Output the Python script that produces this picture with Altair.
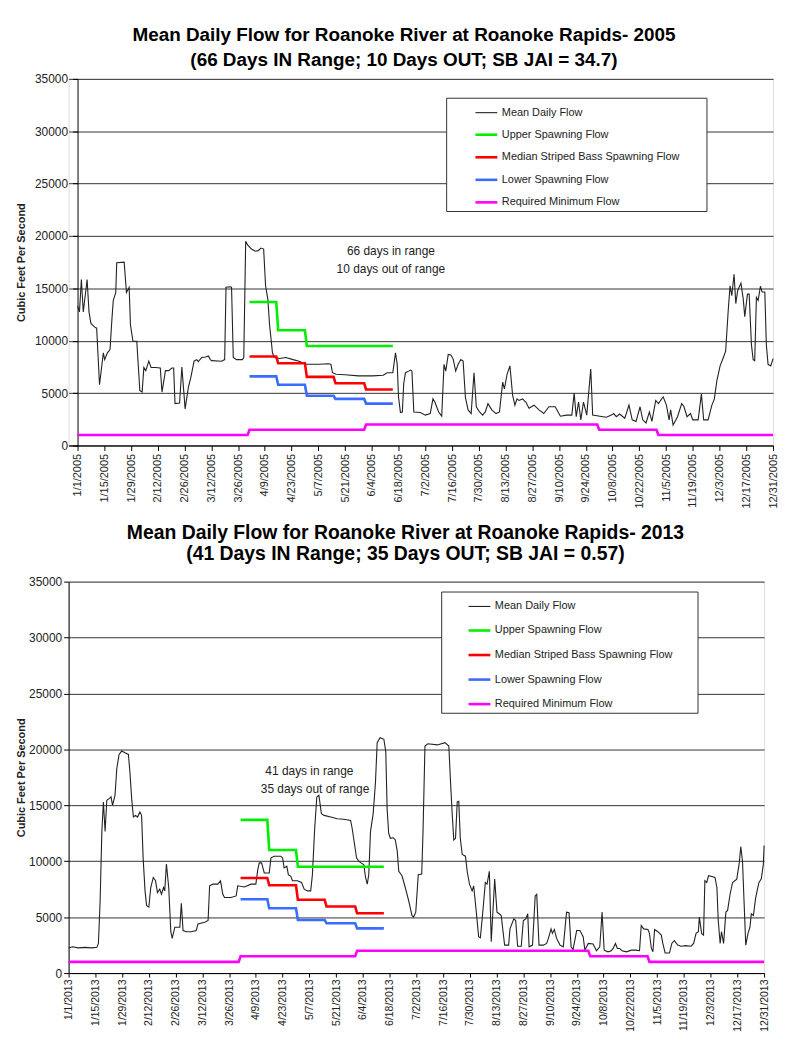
import altair as alt
import pandas as pd

FONT = "Liberation Sans"

SERIES = ["Mean Daily Flow", "Upper Spawning Flow",
          "Median Striped Bass Spawning Flow", "Lower Spawning Flow",
          "Required Minimum Flow"]
COLORS = ["#222222", "#00ee00", "#ff0000", "#3a6cff", "#ff00ff"]
WIDTHS = [1.1, 2.6, 2.6, 2.6, 2.6]

# ---- 2005 mean daily flow (day of year index, cfs) ----
flow_2005_day = [0, 1, 2, 3, 5, 6, 7, 9, 10, 11.5, 13.5, 14.2, 15.6, 17, 18, 18.7, 20, 20.5,
                 24.4, 25.6, 27, 27.7, 29, 31, 32.6, 33.8, 34.7, 35.7, 37.3, 38.5, 40.7, 43.3,
                 44.2, 46, 47.7, 49.4, 50.3, 51, 53.4, 54.6, 56.3, 58, 59.3, 61, 62.4, 63.2, 65,
                 67, 68.5, 69.5, 70.2, 75.4, 77, 77.7, 80, 80.6, 81.5, 83.2, 86.3, 87, 88, 89,
                 91, 93, 94.6, 96, 97.4, 98.4, 99.6, 100.5, 101.4, 102, 103, 105.7, 109, 112.8,
                 116, 117.8, 119.6, 126.7, 131, 132.6, 133.4, 135.4, 140, 147, 154.4, 160, 162,
                 165, 166.4, 167.3, 168, 169, 170, 170.7, 171.6, 173.3, 174.2, 175, 176, 179.4,
                 182, 184.6, 186, 187, 189, 190.6, 191.8, 192.7, 194, 195.4, 196.6, 197.9,
                 199.2, 200.6, 201.8, 203, 204.4, 206, 207.5, 208.7, 210.4, 212, 213.4, 214.8,
                 216.8, 219, 220.8, 222.5, 223.4, 224.8, 226.3, 227.7, 228.9, 230, 231, 232.9,
                 234.6, 236.3, 238.9, 241.5, 244, 246.7, 250, 252.7, 256, 258.7, 259.9, 261,
                 262.2, 263.4, 264.8, 266.5, 268.6, 269.6, 273.4, 276.8, 279.4, 280.6, 282,
                 283.7, 286.4, 288.6, 290.3, 292.3, 294.4, 295.8, 297.5, 299.3, 300.6, 302.6,
                 304, 306.5, 308.2, 309.6, 310.4, 311.7, 314, 316.2, 317.3, 319, 320.8, 322,
                 324.8, 326.5, 327.7, 330, 332, 333.3, 334.6, 336.3, 338, 339.2, 340.6, 341.5,
                 342.4, 343.6, 344.5, 345.5, 347.2, 348.4, 349.2, 350.6, 351.5, 352.7, 353.6,
                 354.4, 355.3, 356.2, 357.4, 358.3, 359.7, 360.5, 361.4, 362.8, 364]
flow_2005_cfs = [13300, 12750, 15850, 12750, 15850, 12750, 11650, 11300, 11200, 5800, 8850, 8200,
                 8850, 9150, 12100, 13850, 14600, 17450, 17500, 14600, 15100, 11500, 9950, 9950,
                 5250, 5100, 7450, 7150, 8050, 7450, 7450, 7400, 5100, 7150, 7150, 7400, 7400,
                 4000, 4050, 7500, 3500, 5550, 6500, 8050, 8200, 8000, 8400, 8450, 8550, 8200,
                 8100, 8050, 8200, 15100, 15150, 15100, 8400, 8200, 8200, 8400, 19500, 19150,
                 18750, 18550, 18600, 18850, 18750, 15250, 13950, 11500, 9950, 8850, 8400, 8300,
                 8400, 8200, 8050, 7900, 7750, 7750, 7800, 7750, 6950, 6800, 6750, 6650, 6650,
                 6700, 6950, 6950, 8850, 7750, 4600, 3150, 3200, 5900, 6950, 7100, 7200, 7100,
                 3200, 3150, 2900, 3050, 4450, 4150, 3200, 2800, 7750, 7100, 8700, 8650, 8250,
                 7100, 7750, 8200, 8050, 4600, 3400, 3050, 6950, 3700, 3200, 2900, 3200, 4000,
                 3400, 3050, 3200, 6050, 5400, 6800, 7600, 4800, 3850, 4450, 4300, 4450, 4150,
                 3550, 3850, 3400, 3050, 3700, 3700, 2800, 2900, 2900, 5000, 2750, 4150, 2450,
                 4150, 2900, 7300, 2900, 2800, 2700, 2900, 3050, 2750, 3000, 2600, 3850, 2450,
                 2300, 3700, 2450, 2150, 3200, 2300, 4300, 4000, 4650, 3850, 2450, 3400, 1950,
                 2750, 4000, 3750, 2750, 3050, 2450, 2450, 4900, 2450, 2450, 3850, 4450, 6200,
                 7600, 8400, 9000, 13050, 15250, 14300, 16350, 13550, 14800, 15500, 14000, 12300,
                 14450, 14450, 9600, 8200, 8100, 14150, 13850, 15200, 14650, 14650, 9600, 7750,
                 7600, 8300]

# ---- 2013 mean daily flow ----
flow_2013_day = [0, 2, 5, 8.7, 12, 14.8, 15.6, 16.5, 17.4, 18.2, 19.1, 20, 21.2, 22.2, 23, 24.3,
                 25.2, 26.4, 27.8, 29.5, 31.3, 32.1, 33, 33.9, 35, 36.1, 37.3, 38.2, 39, 40,
                 40.8, 42, 43, 44.3, 45.5, 46.5, 47.7, 48.6, 49.7, 50.3, 51.2, 52.4, 53.5, 54.2,
                 55.6, 58.2, 59, 59.9, 61.6, 64.2, 66.8, 67.7, 71.2, 73, 73.8, 75.5, 78.1, 79.5,
                 80.7, 81.6, 85, 87.7, 88.5, 92, 95.5, 98, 99, 99.8, 101, 102.4, 105, 105.9,
                 107.6, 111, 112, 112.8, 114.2, 115, 116.3, 117.2, 119.8, 121.9, 123.3, 125,
                 126.7, 127.6, 128.8, 129.9, 131, 132.3, 133.7, 137.2, 140.6, 144, 147.6, 148.4,
                 149.7, 150.7, 151.9, 153, 154.5, 155.4, 156.3, 157.1, 158, 159.4, 160.6, 161.5,
                 163, 165, 166, 166.7, 167.5, 168.4, 170, 171, 172, 172.8, 174.5, 176.2, 178,
                 179.7, 180.5, 181.7, 183, 184.8, 185.5, 186.5, 188, 193, 197, 199, 199.9, 200.8,
                 201.6, 202.5, 203.4, 204.2, 205, 206, 207.7, 208.6, 209.8, 211.2, 212, 213.3,
                 214.6, 215.5, 216.7, 218.1, 219, 220.2, 221.2, 223, 224.2, 225.4, 226.4, 228.2,
                 230.3, 231, 233, 234, 235, 236.9, 238, 239.3, 240.3, 241, 242.8, 244.2, 245,
                 246.2, 248.5, 250.2, 251.1, 252.5, 253.2, 254.2, 255.4, 257.2, 258.9, 260.6,
                 261.9, 263, 264, 265.9, 267.6, 269.3, 270.2, 272, 274.5, 276.3, 278, 279.2,
                 280.3, 282.3, 284, 285, 286.2, 287.2, 288.4, 289.6, 292, 294.5, 297, 298.8,
                 299.7, 301, 303.2, 304, 305, 305.8, 306.7, 308.4, 310.2, 311, 312.2, 314.5,
                 315.7, 317, 318.8, 320.5, 323.1, 325.8, 327.1, 328.4, 329.6, 330.1, 331.3,
                 332.3, 333, 334, 334.9, 336.2, 338.3, 339.3, 340, 341, 341.7, 342.8, 344, 344.9,
                 346.2, 347.5, 349.7, 351, 351.8, 352.7, 353.5, 354.4, 355.6, 356.6, 357.3,
                 358.4, 359.6, 361.3, 362.5, 363.6, 364]
flow_2013_cfs = [2250, 2350, 2250, 2300, 2250, 2300, 2650, 6450, 12650, 15300, 12650, 15450, 15600,
                 15750, 15000, 15900, 18250, 19550, 19850, 19700, 19550, 17950, 15600, 13950,
                 14100, 13950, 14400, 14100, 10300, 7350, 6050, 5900, 7650, 8550, 8250, 7200,
                 7500, 7050, 7650, 7350, 9750, 7650, 3700, 3100, 4100, 4100, 6250, 3800, 3700,
                 3700, 3800, 4400, 4550, 4700, 7800, 7950, 7950, 8250, 7050, 6750, 6750, 6900,
                 7800, 7700, 7950, 7950, 9250, 9850, 9850, 8950, 8950, 10300, 10450, 10450,
                 10300, 9400, 9550, 8800, 8650, 8250, 8250, 8100, 7500, 7350, 7350, 8800, 12950,
                 15750, 15900, 14250, 14100, 13950, 13800, 13750, 13650, 12950, 11450, 10300,
                 10000, 9850, 9700, 8550, 7950, 8800, 12650, 14250, 17050, 20600, 21050, 20900,
                 19800, 14700, 12500, 12050, 12100, 11900, 10900, 9100, 8700, 7650, 6450, 5150,
                 5000, 5450, 8800, 8850, 12650, 20300, 20500, 20400, 20600, 20300, 17050, 14100,
                 11900, 12050, 15300, 15350, 12050, 10600, 10450, 9100, 7950, 7350, 7800, 5600,
                 3250, 3150, 5300, 8100, 7950, 9100, 2800, 8400, 5450, 5300, 5150, 2500, 2500,
                 3950, 4850, 4700, 2400, 2400, 4700, 4850, 5300, 2350, 2500, 6900, 7050, 2500,
                 2500, 2650, 3100, 3950, 3550, 3900, 3100, 2500, 2350, 5450, 5400, 2350, 2100,
                 3800, 3800, 3250, 2050, 2650, 2600, 2000, 2350, 5450, 2050, 1900, 2000, 2200,
                 2650, 2200, 2200, 2000, 1900, 2050, 2050, 2000, 4250, 3950, 3900, 3550, 2200,
                 1900, 3900, 3700, 3400, 2650, 1800, 1800, 2650, 2900, 2500, 2400, 2450, 2400,
                 2650, 3550, 3700, 5000, 3550, 3400, 8250, 8100, 8700, 8650, 8550, 7650, 4700,
                 2650, 3700, 2650, 5450, 5600, 7050, 8100, 8400, 9850, 11300, 10000, 6450, 2500,
                 3550, 4100, 5300, 5150, 6750, 8100, 8400, 9700, 11400]

# ---- spawning-season targets (same in both years): 4/1-4/15, 4/16-4/30, 5/1-5/15, 5/16-5/31, 6/1-6/15
spawn_day = [90, 104, 105, 119, 120, 134, 135, 150, 151, 165]
upper_cfs = [13700, 13700, 11000, 11000, 9500, 9500, 9500, 9500, 9500, 9500]
median_cfs = [8500, 8500, 7850, 7850, 6550, 6550, 5950, 5950, 5350, 5350]
lower_cfs = [6600, 6600, 5800, 5800, 4750, 4750, 4450, 4450, 4000, 4000]
# required minimum flow: Jan-Mar 1000, Apr-May 1500, Jun-Sep 2000, Oct 1500, Nov-Dec 1000
min_day = [0, 89, 90, 150, 151, 272, 273, 303, 304, 364]
min_cfs = [1000, 1000, 1500, 1500, 2000, 2000, 1500, 1500, 1000, 1000]

# in-chart notes
notes_2005_text = ["66 days in range", "10 days out of range"]
notes_2005_day = [164, 164]
notes_2005_cfs = [18600, 16800]
notes_2013_text = ["41 days in range", "35 days out of range"]
notes_2013_day = [126, 129]
notes_2013_cfs = [18040, 16460]

tick_days = list(range(0, 365, 14))
y_ticks = list(range(0, 35001, 5000))


def long_table(flow_day, flow_cfs):
    rows = []
    for d, v in zip(flow_day, flow_cfs):
        rows.append({"day": d, "cfs": v, "series": SERIES[0]})
    for name, vals in [(SERIES[1], upper_cfs), (SERIES[2], median_cfs), (SERIES[3], lower_cfs)]:
        for d, v in zip(spawn_day, vals):
            rows.append({"day": d, "cfs": v, "series": name})
    for d, v in zip(min_day, min_cfs):
        rows.append({"day": d, "cfs": v, "series": SERIES[4]})
    return pd.DataFrame(rows)


def panel(year, flow_day, flow_cfs, title, notes, width, height, x_lo, y_off, leg_x, leg_y,
          row_pad, sym_off, right_gap, title_size, title_lh, title_dx, title_offset,
          ytitle_pad, ylabel_pad, xlabel_size, xtick, xlabel_pad):
    df = long_table(flow_day, flow_cfs)
    legend = alt.Legend(
        title="\u00a0", titleOrient="right", titlePadding=right_gap, titleFontSize=11,
        orient="none", legendX=leg_x, legendY=leg_y, direction="vertical",
        symbolType="stroke", symbolSize=484, symbolOffset=sym_off, labelOffset=3,
        labelFont=FONT, labelFontSize=11, labelColor="#222222", rowPadding=row_pad,
        padding=3, strokeColor="#333333", fillColor="white", labelLimit=400,
    )
    x = alt.X("day:Q",
              scale=alt.Scale(domain=[x_lo, 364], nice=False, zero=False),
              axis=alt.Axis(values=tick_days, title=None, grid=False,
                            labelExpr=f"timeFormat(datetime({year}, 0, 1 + datum.value), '%-m/%-d/%Y')",
                            labelAngle=270, labelFont=FONT, labelFontSize=xlabel_size,
                            labelColor="#222222", labelOverlap=False, labelFlush=False,
                            labelBound=False, labelSeparation=0, labelPadding=xlabel_pad,
                            tickSize=xtick, tickColor="#000000", domainColor="#000000"))
    y = alt.Y("cfs:Q",
              scale=alt.Scale(domain=[0, 35000], nice=False),
              axis=alt.Axis(values=y_ticks, format="d", title="Cubic Feet Per Second",
                            titleFont=FONT, titleFontSize=11, titleFontWeight="bold",
                            titleColor="#222222", titlePadding=ytitle_pad,
                            labelFont=FONT, labelFontSize=12, labelColor="#222222",
                            labelPadding=ylabel_pad, tickSize=5, tickColor="#000000",
                            domainColor="#000000", grid=True, gridColor="#333333",
                            gridWidth=1, offset=y_off))
    lines = alt.Chart(df).mark_line().encode(
        x=x, y=y,
        color=alt.Color("series:N", scale=alt.Scale(domain=SERIES, range=COLORS), legend=legend),
        strokeWidth=alt.StrokeWidth("series:N",
                                    scale=alt.Scale(type="ordinal", domain=SERIES, range=WIDTHS),
                                    legend=legend),
    )
    ntext, nday, ncfs = notes
    notes_df = pd.DataFrame({"day": nday, "cfs": ncfs, "note": ntext})
    labels = alt.Chart(notes_df).mark_text(
        font=FONT, fontSize=12, color="#222222", align="center", baseline="middle"
    ).encode(x=x, y=y, text="note:N")
    return alt.layer(lines, labels).properties(
        width=width, height=height,
        title=alt.TitleParams(text=title, font=FONT, fontSize=title_size, fontWeight="bold",
                              color="#000000", anchor="middle", dx=title_dx,
                              offset=title_offset, lineHeight=title_lh),
    )


# top panel: its plot starts 9 px right of the lower one, so its day axis is widened by
# 9 px on the left (domain starts a few days before 1/1) and its y axis is moved onto day 0
top = panel(2005, flow_2005_day, flow_2005_cfs,
            ["Mean Daily Flow for Roanoke River at Roanoke Rapids- 2005",
             "(66 Days IN Range; 10 Days OUT; SB JAI = 34.7)"],
            (notes_2005_text, notes_2005_day, notes_2005_cfs),
            709, 369, -4.68, -9, 380, 19, 4.7, 25, 24, 19, 25, -17, 3, 8, 5, 11, 5, 3)

bottom = panel(2013, flow_2013_day, flow_2013_cfs,
               ["Mean Daily Flow for Roanoke River at Roanoke Rapids- 2013",
                "(41 Days IN Range; 35 Days OUT; SB JAI = 0.57)"],
               (notes_2013_text, notes_2013_day, notes_2013_cfs),
               700, 394, 0, 0, 375, 10, 6.7, 23, 22, 19.5, 21, -11, 11, 2, 2, 10.5, 4, 2)

chart = alt.vconcat(top, bottom, spacing=14).properties(
    padding={"left": 7, "top": 14, "right": 0, "bottom": 0}
).resolve_scale(
    color="independent", strokeWidth="independent"
).resolve_legend(
    color="independent", strokeWidth="independent"
).configure_view(stroke="#999999").configure(font=FONT)

chart.save("out.html", embed_options={"renderer": "svg", "actions": False})
